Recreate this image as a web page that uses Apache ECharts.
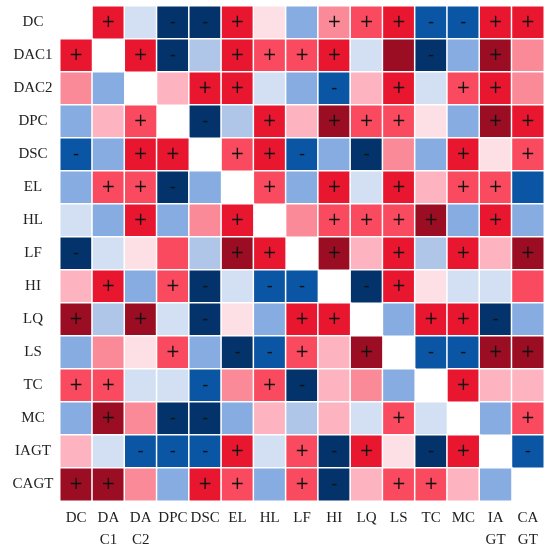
<!DOCTYPE html>
<html>
<head>
<meta charset="utf-8">
<script src="https://cdn.jsdelivr.net/npm/echarts@6/dist/echarts.min.js"></script>
<style>
  html, body { margin: 0; padding: 0; background: #fff; }
  #main { width: 550px; height: 555px; }
</style>
</head>
<body>
<div id="main"></div>
<script>
// variable names, top to bottom / left to right
var names = ['DC', 'DAC1', 'DAC2', 'DPC', 'DSC', 'EL', 'HL', 'LF', 'HI', 'LQ', 'LS', 'TC', 'MC', 'IAGT', 'CAGT']
var xLabels = ['DC', 'DA\nC1', 'DA\nC2', 'DPC', 'DSC', 'EL', 'HL', 'LF', 'HI', 'LQ', 'LS', 'TC', 'MC', 'IA\nGT', 'CA\nGT']
var yLabels = ['DC', 'DAC1', 'DAC2', 'DPC', 'DSC', 'EL', 'HL', 'LF', 'HI', 'LQ', 'LS', 'TC', 'MC', 'IAGT', 'CAGT']

// colour level per cell: 6 strongest positive ... -5 strongest negative, 0 = diagonal (blank)
var levels = [
  [ 0,  5, -1, -5, -5,  5,  1, -3,  3,  4,  5, -4, -4,  5,  5],
  [ 5,  0,  5, -5, -2,  5,  4,  4,  5, -1,  6, -5, -3,  6,  3],
  [ 3, -3,  0,  2,  5,  5, -1, -3, -4,  2,  5, -1,  4,  5,  3],
  [-3,  2,  4,  0, -5, -2,  5,  2,  6,  4,  4,  1, -3,  6,  5],
  [-4, -3,  5,  5,  0,  4,  5, -4, -3, -5,  3, -3,  5,  1,  4],
  [-3,  4,  4, -5, -3,  0,  4, -3,  5, -1,  5,  2,  4,  4, -4],
  [-1, -3,  5, -3,  3,  5,  0,  3,  4,  4,  4,  6, -3,  5, -3],
  [-5, -1,  1,  4, -2,  6,  5,  0,  6,  2,  5, -2,  5,  2,  6],
  [ 2,  5, -3,  4, -5, -1, -4, -4,  0, -5,  5,  1, -1, -1,  4],
  [ 6, -2,  6, -1, -5,  1, -3,  5,  5,  0, -3,  5,  5, -5, -3],
  [-3,  3,  1,  4, -3, -5, -4,  4,  2,  6,  0, -4, -4,  6,  6],
  [ 4,  4, -1, -1, -4,  3,  4, -5,  2,  3, -3,  0,  5,  2,  2],
  [-3,  6,  3, -5, -5, -3,  2, -2,  2, -1,  4, -1,  0, -3,  4],
  [ 2, -1, -4, -4, -4,  5, -1,  4, -5,  5,  1, -5,  5,  0, -4],
  [ 6,  6,  3, -3,  5,  4, -3,  4, -5,  2,  4,  4,  2, -3,  0]
]

// significance marks
var signs = [
  ['',  '+', '',  '-', '-', '+', '',  '',  '+', '+', '+', '-', '-', '+', '+'],
  ['+', '',  '+', '-', '',  '+', '+', '+', '+', '',  '',  '-', '',  '+', ''],
  ['',  '',  '',  '',  '+', '+', '',  '',  '-', '',  '+', '',  '+', '+', ''],
  ['',  '',  '+', '',  '-', '',  '+', '',  '+', '+', '+', '',  '',  '+', '+'],
  ['-', '',  '+', '+', '',  '+', '+', '-', '',  '-', '',  '',  '+', '',  '+'],
  ['',  '+', '+', '-', '',  '',  '+', '',  '+', '',  '+', '',  '+', '+', ''],
  ['',  '',  '+', '',  '',  '+', '',  '',  '+', '+', '+', '+', '',  '+', ''],
  ['-', '',  '',  '',  '',  '+', '+', '',  '+', '',  '+', '',  '+', '',  '+'],
  ['',  '+', '',  '+', '-', '',  '-', '-', '',  '-', '+', '',  '',  '',  ''],
  ['+', '',  '+', '',  '-', '',  '',  '+', '+', '',  '',  '+', '+', '-', ''],
  ['',  '',  '',  '+', '',  '-', '-', '+', '',  '+', '',  '-', '-', '+', '+'],
  ['+', '+', '',  '',  '-', '',  '+', '-', '',  '',  '',  '',  '+', '',  ''],
  ['',  '+', '',  '-', '-', '',  '',  '',  '',  '',  '+', '',  '',  '',  '+'],
  ['',  '',  '-', '-', '-', '+', '',  '+', '-', '+', '',  '-', '+', '',  '-'],
  ['+', '+', '',  '',  '+', '+', '',  '+', '-', '',  '+', '+', '',  '',  '']
]

var data = []
for (var r = 0; r < names.length; r++) {
  for (var c = 0; c < names.length; c++) {
    if (r === c) continue
    data.push({ value: [c, r, levels[r][c]], sign: signs[r][c] })
  }
}

var myChart = echarts.init(document.getElementById('main'))
var option = {
  backgroundColor: '#fff',
  animation: false,
  grid: { left: 60, right: 6, top: 6, bottom: 54 },
  xAxis: {
    type: 'category',
    data: xLabels,
    axisLine: { show: false },
    axisTick: { show: false },
    splitLine: { show: false },
    axisLabel: {
      interval: 0,
      margin: 6,
      fontFamily: 'Liberation Serif',
      fontSize: 15,
      lineHeight: 22,
      color: '#222'
    }
  },
  yAxis: {
    type: 'category',
    data: yLabels,
    inverse: true,
    axisLine: { show: false },
    axisTick: { show: false },
    splitLine: { show: false },
    axisLabel: {
      interval: 0,
      align: 'center',
      margin: 27,
      fontFamily: 'Liberation Serif',
      fontSize: 15,
      color: '#222'
    }
  },
  visualMap: {
    show: false,
    type: 'piecewise',
    dimension: 2,
    pieces: [
      { value: 6, color: '#9b0d22' },
      { value: 5, color: '#e8172f' },
      { value: 4, color: '#f94a5f' },
      { value: 3, color: '#fb8a98' },
      { value: 2, color: '#fdb4c0' },
      { value: 1, color: '#fde0e5' },
      { value: -1, color: '#d3e0f3' },
      { value: -2, color: '#b0c6e8' },
      { value: -3, color: '#86ace2' },
      { value: -4, color: '#0b55a5' },
      { value: -5, color: '#04336b' }
    ]
  },
  series: [
    {
      type: 'heatmap',
      data: data,
      itemStyle: { borderColor: '#fff', borderWidth: 1.5 },
      label: {
        show: true,
        color: '#111',
        fontSize: 17,
        fontFamily: 'DejaVu Sans',
        formatter: function (p) { return p.data.sign }
      },
      emphasis: { disabled: true }
    }
  ]
}
myChart.setOption(option)
</script>
</body>
</html>
